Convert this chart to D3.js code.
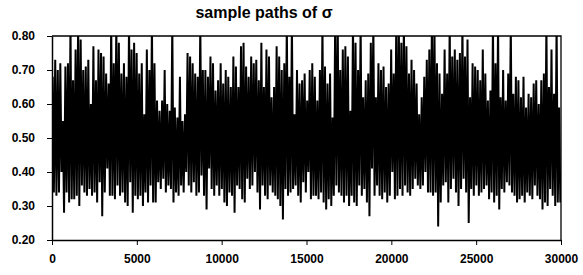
<!DOCTYPE html>
<html>
<head>
<meta charset="utf-8">
<script src="https://cdn.jsdelivr.net/npm/d3@7"></script>
<style>
  body { margin: 0; background: #fff; }
  text { font-family: Arial, "Liberation Sans", sans-serif; font-weight: bold; fill: #000; }
</style>
</head>
<body>
<svg width="583" height="275"></svg>
<script>
const BLOCK = 150;
const hiVals = [
  0.68,0.73,0.70,0.72,0.55,0.71,0.72,0.84,0.67,0.76,0.84,0.79,0.70,0.71,0.73,0.60,0.77,0.67,0.76,0.75,
  0.74,0.69,0.66,0.84,0.72,0.84,0.78,0.69,0.72,0.68,0.84,0.76,0.78,0.75,0.69,0.72,0.57,0.76,0.70,0.84,
  0.72,0.61,0.58,0.61,0.70,0.60,0.58,0.84,0.59,0.56,0.68,0.55,0.57,0.75,0.74,0.72,0.69,0.68,0.84,0.70,
  0.70,0.68,0.74,0.72,0.64,0.67,0.72,0.66,0.70,0.68,0.65,0.74,0.71,0.65,0.77,0.78,0.71,0.68,0.74,0.72,
  0.73,0.67,0.78,0.65,0.76,0.74,0.62,0.65,0.77,0.74,0.70,0.72,0.84,0.68,0.84,0.57,0.70,0.66,0.67,0.69,
  0.61,0.70,0.72,0.68,0.61,0.70,0.84,0.71,0.66,0.69,0.56,0.84,0.84,0.70,0.76,0.77,0.74,0.58,0.84,0.78,
  0.70,0.84,0.62,0.67,0.69,0.78,0.84,0.62,0.72,0.70,0.71,0.65,0.66,0.76,0.69,0.84,0.84,0.78,0.84,0.77,
  0.69,0.73,0.70,0.66,0.57,0.62,0.68,0.73,0.76,0.84,0.84,0.72,0.69,0.63,0.76,0.69,0.84,0.74,0.76,0.73,
  0.75,0.84,0.74,0.79,0.62,0.72,0.71,0.70,0.67,0.76,0.69,0.61,0.64,0.84,0.72,0.84,0.62,0.70,0.61,0.69,
  0.84,0.63,0.68,0.67,0.62,0.68,0.59,0.63,0.62,0.66,0.67,0.60,0.67,0.69,0.84,0.65,0.76,0.63,0.84,0.59
];
const loVals = [
  0.34,0.33,0.34,0.40,0.28,0.34,0.31,0.32,0.32,0.33,0.30,0.36,0.34,0.33,0.35,0.33,0.34,0.31,0.37,0.27,
  0.34,0.41,0.33,0.33,0.32,0.36,0.33,0.34,0.31,0.30,0.37,0.28,0.33,0.32,0.33,0.30,0.34,0.31,0.36,0.31,
  0.31,0.37,0.35,0.38,0.34,0.36,0.35,0.31,0.34,0.33,0.36,0.34,0.40,0.36,0.34,0.37,0.33,0.34,0.39,0.33,
  0.29,0.41,0.35,0.33,0.36,0.33,0.35,0.31,0.30,0.34,0.33,0.28,0.36,0.35,0.32,0.31,0.38,0.35,0.36,0.40,
  0.34,0.29,0.36,0.33,0.32,0.36,0.34,0.33,0.32,0.30,0.26,0.35,0.33,0.34,0.35,0.36,0.33,0.31,0.37,0.34,
  0.40,0.32,0.33,0.33,0.32,0.34,0.31,0.29,0.32,0.30,0.33,0.36,0.34,0.33,0.31,0.33,0.30,0.33,0.31,0.30,
  0.36,0.33,0.35,0.31,0.27,0.41,0.33,0.36,0.33,0.32,0.34,0.31,0.33,0.40,0.32,0.33,0.35,0.33,0.36,0.34,
  0.33,0.35,0.38,0.36,0.35,0.36,0.40,0.34,0.34,0.33,0.34,0.24,0.31,0.36,0.37,0.31,0.35,0.38,0.34,0.30,
  0.35,0.38,0.34,0.25,0.35,0.33,0.36,0.33,0.34,0.35,0.36,0.32,0.34,0.31,0.33,0.29,0.35,0.34,0.37,0.36,
  0.34,0.33,0.31,0.32,0.33,0.31,0.34,0.33,0.32,0.36,0.33,0.32,0.29,0.31,0.30,0.35,0.33,0.30,0.31,0.31
];
const xTicks = [0, 5000, 10000, 15000, 20000, 25000, 30000];
const yTicks = [0.20, 0.30, 0.40, 0.50, 0.60, 0.70, 0.80];

const svg = d3.select('svg');
const plotLeft = 52, plotRight = 561, plotTop = 36, plotBottom = 240;

const x = d3.scaleLinear().domain([0, 30000]).range([plotLeft, plotRight]);
const y = d3.scaleLinear().domain([0.2, 0.8]).range([plotBottom, plotTop]);

// zig-zag through each block: high then low
const points = [];
hiVals.forEach((h, i) => {
    points.push({ it: i * BLOCK + 40, v: h });
    points.push({ it: i * BLOCK + 110, v: loVals[i] });
});

svg.append('clipPath')
    .attr('id', 'plotClip')
    .append('rect')
    .attr('x', plotLeft)
    .attr('y', plotTop)
    .attr('width', plotRight - plotLeft)
    .attr('height', plotBottom - plotTop);

const line = d3.line()
    .x(d => x(d.it))
    .y(d => y(d.v));

svg.append('path')
    .datum(points)
    .attr('clip-path', 'url(#plotClip)')
    .attr('d', line)
    .attr('fill', 'none')
    .attr('stroke', '#000')
    .attr('stroke-width', 2)
    .attr('stroke-linejoin', 'bevel');

// frame on top and right
svg.append('path')
    .attr('d', `M${plotLeft},${plotTop}H${plotRight}V${plotBottom}`)
    .attr('fill', 'none')
    .attr('stroke', '#000')
    .attr('stroke-width', 1.3);

const yAxis = svg.append('g')
    .attr('transform', `translate(${plotLeft},0)`)
    .call(d3.axisLeft(y).tickValues(yTicks).tickFormat(d3.format('.2f')).tickSize(5).tickSizeOuter(0).tickPadding(12));

const xAxis = svg.append('g')
    .attr('transform', `translate(0,${plotBottom})`)
    .call(d3.axisBottom(x).tickValues(xTicks).tickSize(5).tickSizeOuter(0).tickPadding(9).tickFormat(d3.format('d')));

[yAxis, xAxis].forEach(a => {
    a.selectAll('.domain').attr('stroke', '#000').attr('stroke-width', 1.5);
    a.selectAll('.tick line').attr('stroke', '#000').attr('stroke-width', 1);
    a.selectAll('text')
        .style('font-family', 'Arial, "Liberation Sans", sans-serif')
        .style('font-weight', 'bold')
        .style('font-size', '12px')
        .attr('fill', '#000');
});

svg.append('text')
    .attr('x', 264)
    .attr('y', 18)
    .attr('text-anchor', 'middle')
    .style('font-size', '16px')
    .text('sample paths of σ');
</script>
</body>
</html>
